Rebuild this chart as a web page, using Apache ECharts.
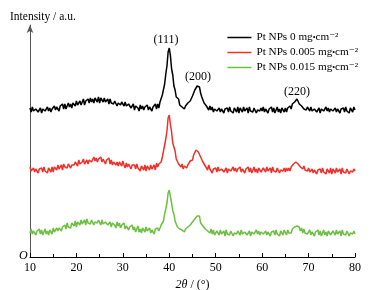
<!DOCTYPE html>
<html><head><meta charset="utf-8">
<script src="https://cdn.jsdelivr.net/npm/echarts@6/dist/echarts.min.js"></script>
<style>html,body{margin:0;padding:0;background:#fff}#c{width:389px;height:290px}</style>
</head><body><div id="c"></div>
<script>
// 2θ sample grid: 10.00 … 80.00 in 0.25° steps
const twoTheta = [];
for (let i = 0; i <= 280; i++) twoTheta.push(10 + i * 0.25);

const seriesNames = ['Pt NPs 0 mg·cm⁻²', 'Pt NPs 0.005 mg·cm⁻²', 'Pt NPs 0.015 mg·cm⁻²'];
const seriesColors = ['#000000', '#f0302a', '#6cc040'];

// one row = 5° (20 samples)
const black = [
  149,145,150,146,144,148,150,145,147,149,144,148,149,146,144,150,146,149,145,148,
  147,151,147,150,151,146,151,149,153,148,153,148,151,154,150,153,149,154,154,151,
  156,152,151,156,152,155,158,152,156,154,158,154,159,155,158,154,159,157,155,160,
  154,159,158,155,159,155,154,158,153,158,154,156,153,156,157,151,154,154,152,155,
  155,151,155,151,149,153,154,149,151,153,147,151,152,149,146,152,148,151,147,150,
  148,152,147,150,151,146,150,149,153,148,153,149,155,155,162,164,173,183,191,205,
  209,201,188,182,171,167,160,159,158,152,154,150,152,148,151,149,154,152,156,155,
  161,162,167,166,171,169,170,164,160,160,154,156,151,153,147,151,147,150,145,148,
  150,146,144,149,145,148,150,144,148,146,149,145,150,146,148,144,149,147,145,150,
  144,149,148,145,150,146,145,149,144,150,146,148,145,149,150,144,147,148,146,149,
  146,150,145,148,149,144,148,146,150,145,149,144,147,150,145,148,144,149,148,145,
  149,145,149,147,151,148,153,151,155,153,158,157,153,155,151,153,148,150,147,150,
  150,146,150,146,144,148,150,145,147,149,144,148,149,146,144,150,146,149,145,148,
  150,146,144,149,145,148,150,144,148,146,149,145,150,146,148,144,149,147,145,150,
  147];
const red = [
  90,86,84,89,85,88,90,84,88,86,89,85,90,86,88,84,89,87,85,90,
  85,90,90,87,92,88,88,92,87,93,90,92,89,93,95,89,92,93,92,95,
  95,91,97,93,91,95,98,93,95,97,93,97,98,95,94,100,96,99,95,98,
  96,100,95,98,98,93,97,95,99,93,97,92,95,97,92,95,91,95,94,91,
  96,92,89,94,90,93,94,88,92,90,92,88,93,89,90,86,91,89,87,92,
  86,91,90,87,92,88,88,92,87,94,90,93,95,95,100,106,108,118,126,139,
  142,132,125,114,110,106,98,98,93,95,90,93,88,91,92,89,92,92,96,95,
  97,102,102,107,107,105,107,100,100,95,97,91,92,87,92,88,90,84,88,89,
  89,85,90,86,84,88,90,85,87,89,84,88,89,86,84,90,86,89,85,88,
  86,90,85,88,89,84,88,86,90,85,89,84,87,90,85,88,84,89,88,85,
  84,89,88,85,90,86,85,89,84,90,86,88,85,89,90,84,87,88,86,89,
  85,89,86,89,86,90,88,93,91,95,96,93,95,90,92,88,91,87,89,86,
  89,85,83,88,84,87,89,83,87,85,88,84,89,85,87,83,88,86,84,89,
  83,88,87,84,89,85,84,88,83,89,85,87,84,88,89,83,86,87,85,88,
  86];
const green = [
  24,28,23,26,27,22,26,24,28,23,27,22,25,28,23,26,22,27,26,23,
  29,25,24,29,26,29,31,26,30,29,32,28,34,30,32,29,34,32,31,36,
  30,35,35,32,37,33,33,37,32,38,34,36,33,37,38,32,35,36,34,37,
  37,32,37,33,31,35,37,32,33,35,30,34,35,32,29,35,31,34,29,32,
  30,34,28,31,32,27,30,28,32,27,30,25,28,31,25,28,24,29,28,25,
  30,26,24,29,24,27,29,23,28,26,29,26,28,32,34,36,43,48,54,64,
  67,60,54,46,43,36,37,30,32,28,30,27,29,25,28,26,30,28,32,30,
  35,33,38,38,41,40,41,34,35,31,33,28,30,26,28,24,28,23,27,22,
  21,26,25,22,27,23,22,26,21,27,23,25,22,26,27,21,24,25,23,26,
  26,22,27,23,21,25,27,22,24,26,21,25,26,23,21,27,23,26,22,25,
  27,23,21,26,22,25,27,21,25,23,26,22,27,23,25,21,26,24,22,27,
  26,22,27,24,26,24,28,26,30,28,31,29,30,26,29,24,28,24,26,23,
  23,27,22,25,26,21,25,23,27,22,26,21,24,27,22,25,21,26,25,22,
  21,26,25,22,27,23,22,26,21,27,23,25,22,26,27,21,24,25,23,26,
  23];

const xTicks = [10, 20, 30, 40, 50, 60, 70, 80];
const peakLabels = ['(111)', '(200)', '(220)'];
const peakX = [39.3, 46.2, 67.5];
const peakY = [217, 180, 165];

const FONT = '"Liberation Serif","DejaVu Serif",serif';
const chart = echarts.init(document.getElementById('c'), null, {renderer: 'canvas'});
const allY = [black, red, green];

const series = seriesNames.map((n, k) => ({
  name: n, type: 'line', symbol: 'none', showSymbol: false, animation: false,
  data: twoTheta.map((x, i) => [x, allY[k][i]]),
  lineStyle: {color: seriesColors[k], width: 1.5},
  itemStyle: {color: seriesColors[k]},
  z: 3 - k
}));
series[0].markPoint = {
  symbol: 'circle', symbolSize: 0, animation: false,
  label: {show: true, position: 'inside', color: '#000', fontFamily: FONT, fontSize: 12,
          formatter: p => p.name},
  data: peakLabels.map((t, i) => ({name: t, coord: [peakX[i], peakY[i]]}))
};

chart.setOption({
  animation: false,
  backgroundColor: '#fff',
  title: {text: 'Intensity / a.u.', left: 5, top: 6,
          textStyle: {fontFamily: FONT, fontSize: 11.5, fontWeight: 'normal', color: '#000'}},
  legend: {
    orient: 'vertical', right: 26, top: 27, itemWidth: 24, itemHeight: 1.5, itemGap: 4,
    icon: 'rect',
    formatter: n => n.replace('·', '{d|•}'),
    textStyle: {fontFamily: FONT, fontSize: 11.2, color: '#000',
                rich: {d: {fontFamily: FONT, fontSize: 8, color: '#000'}}},
    data: seriesNames
  },
  grid: {left: 30, right: 34, top: 25, bottom: 33, containLabel: false, outerBoundsMode: 'none'},
  xAxis: {
    type: 'value', min: 10, max: 80, interval: 10,
    name: '{i|2θ} / (°)', nameLocation: 'middle', nameGap: 21,
    nameTextStyle: {fontFamily: FONT, fontSize: 12, color: '#000',
                    rich: {i: {fontFamily: FONT, fontSize: 12, fontStyle: 'italic', color: '#000'}}},
    axisLine: {lineStyle: {color: '#000', width: 1}},
    axisTick: {inside: true, length: 4, lineStyle: {color: '#000'}},
    minorTick: {show: true, splitNumber: 2, length: 3, lineStyle: {color: '#000'}},
    axisLabel: {fontFamily: FONT, fontSize: 12, color: '#000', margin: 5,
                formatter: v => xTicks.includes(v) ? String(v) : ''},
    splitLine: {show: false}
  },
  yAxis: {
    type: 'value', min: 0, max: 232,
    axisLine: {show: true, symbol: ['none', 'arrow'], symbolSize: [5, 8], lineStyle: {color: '#555', width: 1}},
    axisTick: {show: false}, axisLabel: {show: false}, splitLine: {show: false}
  },
  graphic: [{type: 'text', left: 19, top: 250,
             style: {text: 'O', font: 'italic 12px "Liberation Serif", serif', fill: '#000'}}],
  series: series
});
</script></body></html>
